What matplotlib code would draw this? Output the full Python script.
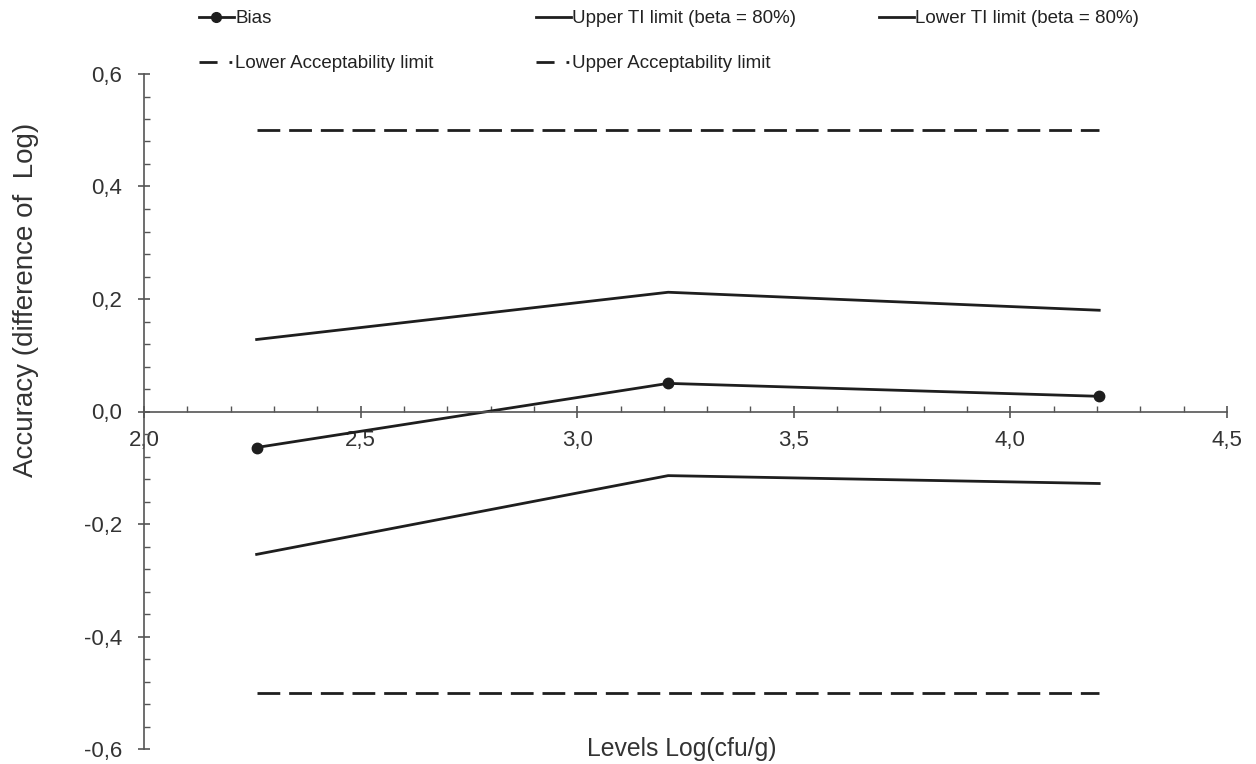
import matplotlib
matplotlib.use("Agg")
import matplotlib.pyplot as plt
from matplotlib.lines import Line2D
from matplotlib.ticker import MultipleLocator, FuncFormatter

plt.rcParams['font.family'] = ['Liberation Sans', 'DejaVu Sans']

levels = [2.26, 3.21, 4.205]
bias = [-0.064, 0.050, 0.027]
upper_ti = [0.128, 0.212, 0.180]
lower_ti = [-0.254, -0.114, -0.128]
lower_acc = [-0.5, -0.5, -0.5]
upper_acc = [0.5, 0.5, 0.5]

labels = ["Bias", "Upper TI limit (beta = 80%)", "Lower TI limit (beta = 80%)",
          "Lower Acceptability limit", "Upper Acceptability limit"]

W, H = 1256, 764
fig = plt.figure(figsize=(W / 100, H / 100), dpi=100)
ax = fig.add_axes([144 / W, 1 - 749 / H, (1227 - 144) / W, (749 - 74) / H])

lc = '#1e1e1e'
lw = 2.0
dash = (0, (8.2, 3.2))
ax.plot(levels, bias, color=lc, lw=lw, marker='o', ms=7.5)
ax.plot(levels, upper_ti, color=lc, lw=lw)
ax.plot(levels, lower_ti, color=lc, lw=lw)
ax.plot(levels, lower_acc, color=lc, lw=lw, linestyle=dash)
ax.plot(levels, upper_acc, color=lc, lw=lw, linestyle=dash)

ax.set_xlim(2.0, 4.5)
ax.set_ylim(-0.6, 0.6)
ax.spines['top'].set_visible(False)
ax.spines['right'].set_visible(False)
ax.spines['bottom'].set_position(('data', 0))
for s in ('left', 'bottom'):
    ax.spines[s].set_color('#555555')
    ax.spines[s].set_linewidth(1.2)

ax.xaxis.set_major_locator(MultipleLocator(0.5))
ax.xaxis.set_minor_locator(MultipleLocator(0.1))
ax.yaxis.set_major_locator(MultipleLocator(0.2))
ax.yaxis.set_minor_locator(MultipleLocator(0.04))
fmt = FuncFormatter(lambda v, p: f"{v:.1f}".replace('.', ',').replace('-0,0', '0,0'))
ax.xaxis.set_major_formatter(fmt)
ax.yaxis.set_major_formatter(fmt)
ax.tick_params(which='major', direction='inout', length=9, width=1.2, color='#555555',
               labelsize=16, labelcolor='#333333')
ax.tick_params(which='minor', direction='in', length=4, width=1.0, color='#555555')
ax.tick_params(axis='x', which='major', pad=8.5)
ax.tick_params(axis='y', which='major', pad=11)
ax.patch.set_alpha(0)

fig.text(26 / W, 1 - 300 / H, "Accuracy (difference of  Log)", rotation=90,
         ha='center', va='center', fontsize=20, color='#333333')
fig.text(682 / W, 1 - 749 / H, "Levels Log(cfu/g)", ha='center', va='center',
         fontsize=17.8, color='#333333')

h_bias = Line2D([], [], color=lc, lw=lw, marker='o', ms=7)
h_line = Line2D([], [], color=lc, lw=lw)
h_dash = Line2D([], [], color=lc, lw=lw, linestyle=(0, (6.5, 4.3, 1, 40)))

common = dict(frameon=False, fontsize=13.5, handlelength=1.85, handletextpad=0.08,
              labelspacing=1.5, borderaxespad=0, borderpad=0, loc='upper left')
leg_fc = '#222222'
anchor_y = 1 - 10 / H
l1 = fig.legend([h_bias, h_dash], [labels[0], labels[3]],
                bbox_to_anchor=(199 / W, anchor_y), **common)
l2 = fig.legend([h_line, h_dash], [labels[1], labels[4]],
                bbox_to_anchor=(536 / W, anchor_y), **common)
l3 = fig.legend([h_line], [labels[2]],
                bbox_to_anchor=(879 / W, anchor_y), **common)
for lg in (l1, l2, l3):
    for t in lg.get_texts():
        t.set_color(leg_fc)

fig.savefig("out.png", dpi=100)
